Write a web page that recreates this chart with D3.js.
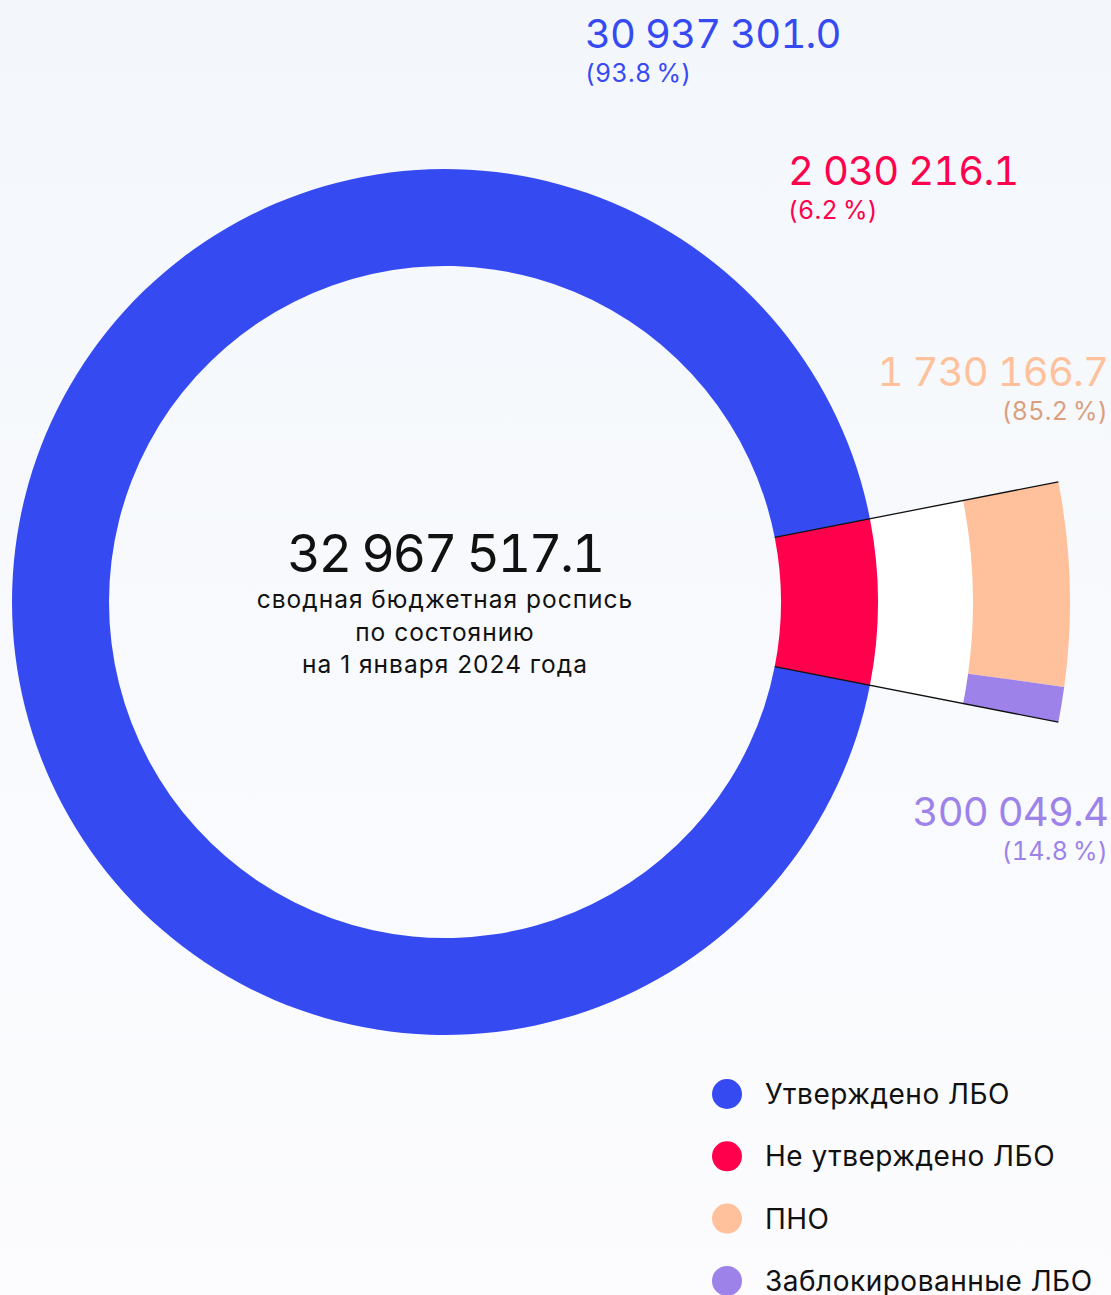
<!DOCTYPE html>
<html>
<head>
<meta charset="utf-8">
<script src="https://cdn.jsdelivr.net/npm/d3@7"></script>
<style>
  html, body { margin: 0; padding: 0; }
  body { width: 1111px; height: 1295px; overflow: hidden; font-family: Inter, "Noto Sans", sans-serif; }
  .num { font-variant-numeric: tabular-nums; font-feature-settings: "tnum" 1; }
</style>
</head>
<body>
<div id="chart"></div>
<script>
// main split of the budget
var mainNames = ["Не утверждено ЛБО", "Утверждено ЛБО"];
var mainValues = [2030216.1, 30937301.0];
var mainPct = ["6.2\u2009%", "93.8\u2009%"];
// breakdown of the unapproved part
var subNames = ["ПНО", "Заблокированные ЛБО"];
var subValues = [1730166.7, 300049.4];
var subPct = ["85.2\u2009%", "14.8\u2009%"];
var totalText = "32 967 517.1";
var subtitle = ["сводная бюджетная роспись", "по состоянию", "на 1 января 2024 года"];
var legendNames = ["Утверждено ЛБО", "Не утверждено ЛБО", "ПНО", "Заблокированные ЛБО"];

var colors = {
  "Утверждено ЛБО": "#364af2",
  "Не утверждено ЛБО": "#ff004d",
  "ПНО": "#ffc19b",
  "Заблокированные ЛБО": "#9d83e9"
};
var pctColors = {
  "Утверждено ЛБО": "#364af2",
  "Не утверждено ЛБО": "#ff004d",
  "ПНО": "#d9a07f",
  "Заблокированные ЛБО": "#9d83e9"
};

var W = 1111, H = 1295;
var cx = 445, cy = 602;
var rIn = 336, rOut = 433;
var sIn = 528, sOut = 625;

function fmt(v) {
  var parts = v.toFixed(1).split(".");
  return parts[0].replace(/\B(?=(\d{3})+(?!\d))/g, " ") + "." + parts[1];
}

var svg = d3.select("#chart").append("svg")
  .attr("width", W).attr("height", H);

var grad = svg.append("defs").append("linearGradient")
  .attr("id", "bg").attr("x1", 0).attr("y1", 0).attr("x2", 0).attr("y2", 1);
grad.append("stop").attr("offset", "0").attr("stop-color", "#f3f7fb");
grad.append("stop").attr("offset", "0.2").attr("stop-color", "#f5f8fc");
grad.append("stop").attr("offset", "1").attr("stop-color", "#fcfcfe");
svg.append("rect").attr("width", W).attr("height", H).attr("fill", "url(#bg)");

var g = svg.append("g").attr("transform", "translate(" + cx + "," + cy + ")");

var total = d3.sum(mainValues);
var span = 2 * Math.PI * mainValues[0] / total;
var a0 = Math.PI / 2 - span / 2;

var mainPie = d3.pie().sort(null).startAngle(a0).endAngle(a0 + 2 * Math.PI);
var mainArcs = mainPie(mainValues);
var arcMain = d3.arc().innerRadius(rIn).outerRadius(rOut);

// white wedge between the ring and the breakdown bar
g.append("path")
  .attr("d", d3.arc().innerRadius(rOut).outerRadius(sIn)({startAngle: a0, endAngle: a0 + span}))
  .attr("fill", "#ffffff");

g.selectAll("path.main").data(mainArcs).enter().append("path")
  .attr("class", "main")
  .attr("d", arcMain)
  .attr("fill", function(d, i) { return colors[mainNames[i]]; });

var subPie = d3.pie().sort(null).startAngle(a0).endAngle(a0 + span);
var arcSub = d3.arc().innerRadius(sIn).outerRadius(sOut);
g.selectAll("path.sub").data(subPie(subValues)).enter().append("path")
  .attr("class", "sub")
  .attr("d", arcSub)
  .attr("fill", function(d, i) { return colors[subNames[i]]; });

// connector lines along the slice edges
[a0, a0 + span].forEach(function(a) {
  var s = Math.sin(a), c = -Math.cos(a);
  g.append("line")
    .attr("x1", rIn * s).attr("y1", rIn * c)
    .attr("x2", sOut * s).attr("y2", sOut * c)
    .attr("stroke", "#111").attr("stroke-width", 1.3);
});

// center text
svg.append("text").attr("class", "num").attr("x", cx).attr("y", 572)
  .attr("text-anchor", "middle").attr("font-size", 52).attr("fill", "#111")
  .attr("letter-spacing", -2.5)
  .text(totalText);
subtitle.forEach(function(t, i) {
  svg.append("text").attr("x", cx).attr("y", 608 + i * 32.5)
    .attr("text-anchor", "middle").attr("font-size", 24.5).attr("fill", "#111")
    .attr("letter-spacing", 1.0)
    .text(t);
});

// value labels
var labels = [
  {name: mainNames[1], value: mainValues[1], pct: mainPct[1], x: 585, y: 48, anchor: "start"},
  {name: mainNames[0], value: mainValues[0], pct: mainPct[0], x: 788, y: 185, anchor: "start"},
  {name: subNames[0], value: subValues[0], pct: subPct[0], x: 1108, y: 386, anchor: "end"},
  {name: subNames[1], value: subValues[1], pct: subPct[1], x: 1108, y: 826, anchor: "end"}
];
labels.forEach(function(l) {
  svg.append("text").attr("class", "num").attr("x", l.x).attr("y", l.y)
    .attr("text-anchor", l.anchor).attr("font-size", 40)
    .attr("letter-spacing", -0.85)
    .attr("fill", colors[l.name]).text(fmt(l.value));
  svg.append("text").attr("class", "num").attr("x", l.x).attr("y", l.y + 34)
    .attr("text-anchor", l.anchor).attr("font-size", 25)
    .attr("letter-spacing", 0.3)
    .attr("fill", pctColors[l.name]).text("(" + l.pct + ")");
});

// legend
var leg = svg.append("g");
legendNames.forEach(function(n, i) {
  var y = 1094 + i * 62.3;
  leg.append("circle").attr("cx", 727).attr("cy", y).attr("r", 15).attr("fill", colors[n]);
  leg.append("text").attr("x", 765).attr("y", y + 10).attr("font-size", 28)
    .attr("letter-spacing", 0.5)
    .attr("fill", "#111").text(n);
});
</script>
</body>
</html>
